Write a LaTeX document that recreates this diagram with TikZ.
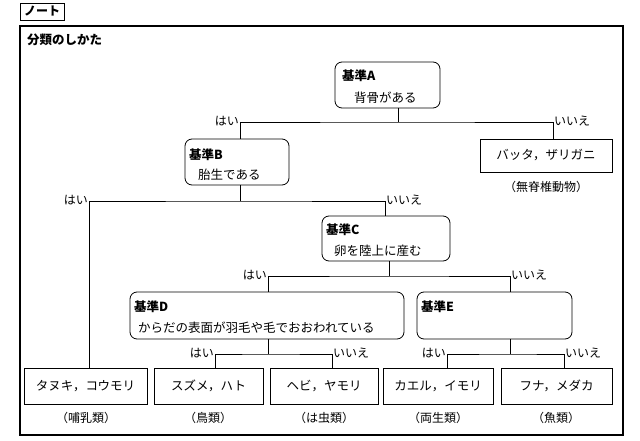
\documentclass[tikz,border=0pt]{standalone}
\usepackage{fontspec}
\setmainfont{Noto Sans CJK JP}
\usetikzlibrary{calc}
\tikzset{
  rbox/.style={draw, rounded corners=7pt, line width=0.8pt, inner sep=0pt},
  sbox/.style={draw, line width=0.6pt, inner sep=0pt, font=\fontsize{12.5}{14}\selectfont},
  lbl/.style={font=\fontsize{12}{14}\selectfont, inner sep=1pt},
  ttl/.style={font=\fontsize{12.5}{14}\selectfont\bfseries, anchor=west, inner sep=0pt},
  txt/.style={font=\fontsize{12.5}{14}\selectfont, anchor=west, inner sep=0pt},
  ln/.style={line width=0.6pt}
}
\begin{document}
\begin{tikzpicture}[x=1pt,y=-1pt]
\useasboundingbox (0,0) rectangle (640,441);
\fill[white] (0,0) rectangle (640,441);
\node[draw, line width=0.7pt, minimum width=44, minimum height=17, inner sep=0pt, font=\fontsize{12}{13}\selectfont\bfseries] (note) at (42,11.5) {ノート};
\node[draw, line width=1.2pt, minimum width=603, minimum height=409, inner sep=0pt] (frame) at (321.5,230.5) {};
\node[ttl] (title) at (27,40) {分類のしかた};
% decision boxes
\node[rbox, minimum width=105, minimum height=46] (A) at (387.5,85) {};
\node[ttl] (Ah) at (342,76) {基準A};
\node[txt] (At) at (354,98) {背骨がある};
\node[rbox, minimum width=104, minimum height=46] (B) at (237,162) {};
\node[ttl] (Bh) at (189,155) {基準B};
\node[txt] (Bt) at (198,175) {胎生である};
\node[rbox, minimum width=128, minimum height=45] (C) at (386,238.5) {};
\node[ttl] (Ch) at (326,230) {基準C};
\node[txt] (Ct) at (334,251) {卵を陸上に産む};
\node[rbox, minimum width=274, minimum height=47] (D) at (267,315.5) {};
\node[ttl] (Dh) at (134,307) {基準D};
\node[txt] (Dt) at (138,328) {からだの表面が羽毛や毛でおおわれている};
\node[rbox, minimum width=155, minimum height=47] (E) at (494.5,315.5) {};
\node[ttl] (Eh) at (421,307) {基準E};
% leaf boxes
\node[sbox, minimum width=132, minimum height=33] (inv) at (546,155.5) {バッタ，ザリガニ};
\node[lbl] (invl) at (546,187) {（無脊椎動物）};
\node[sbox, minimum width=123, minimum height=36] (L1) at (85.5,386) {タヌキ，コウモリ};
\node[sbox, minimum width=109, minimum height=36] (L2) at (208.5,386) {スズメ，ハト};
\node[sbox, minimum width=108, minimum height=36] (L3) at (324,386) {ヘビ，ヤモリ};
\node[sbox, minimum width=110, minimum height=36] (L4) at (438,386) {カエル，イモリ};
\node[sbox, minimum width=111, minimum height=36] (L5) at (556.5,386) {フナ，メダカ};
\node[lbl] (c1) at (86,418) {（哺乳類）};
\node[lbl] (c2) at (208,418) {（鳥類）};
\node[lbl] (c3) at (324,418) {（は虫類）};
\node[lbl] (c4) at (438,418) {（両生類）};
\node[lbl] (c5) at (556,418) {（魚類）};
% junctions
\coordinate (ja) at (398,122);
\coordinate (jb) at (240,201);
\coordinate (jc) at (389,276);
\coordinate (jd) at (268,354);
\coordinate (je) at (510,354);
% connectors
\draw[ln] (A.south -| ja) -- (ja);
\draw[ln] (B.north -| jb) |- (ja) -| (inv.north -| 553,0);
\draw[ln] (B.south -| jb) -- (jb);
\draw[ln] (L1.north -| 89,0) |- (jb) -| (C.north -| 385,0);
\draw[ln] (C.south -| jc) -- (jc);
\draw[ln] (D.north -| jd) |- (jc) -| (E.north -| je);
\draw[ln] (D.south -| jd) -- (jd);
\draw[ln] (L2.north -| 215,0) |- (jd) -| (L3.north -| 332,0);
\draw[ln] (E.south -| je) -- (je);
\draw[ln] (L4.north -| 447,0) |- (je) -| (L5.north -| 564,0);
% yes/no labels
\node[lbl, anchor=south east] at (240,127) {はい};
\node[lbl, anchor=south west] at (553,127) {いいえ};
\node[lbl, anchor=south east] at (89,206) {はい};
\node[lbl, anchor=south west] at (385,206) {いいえ};
\node[lbl, anchor=south east] at (268,281) {はい};
\node[lbl, anchor=south west] at (510,281) {いいえ};
\node[lbl, anchor=south east] at (215,359) {はい};
\node[lbl, anchor=south west] at (332,359) {いいえ};
\node[lbl, anchor=south east] at (447,359) {はい};
\node[lbl, anchor=south west] at (564,359) {いいえ};
\end{tikzpicture}
\end{document}
